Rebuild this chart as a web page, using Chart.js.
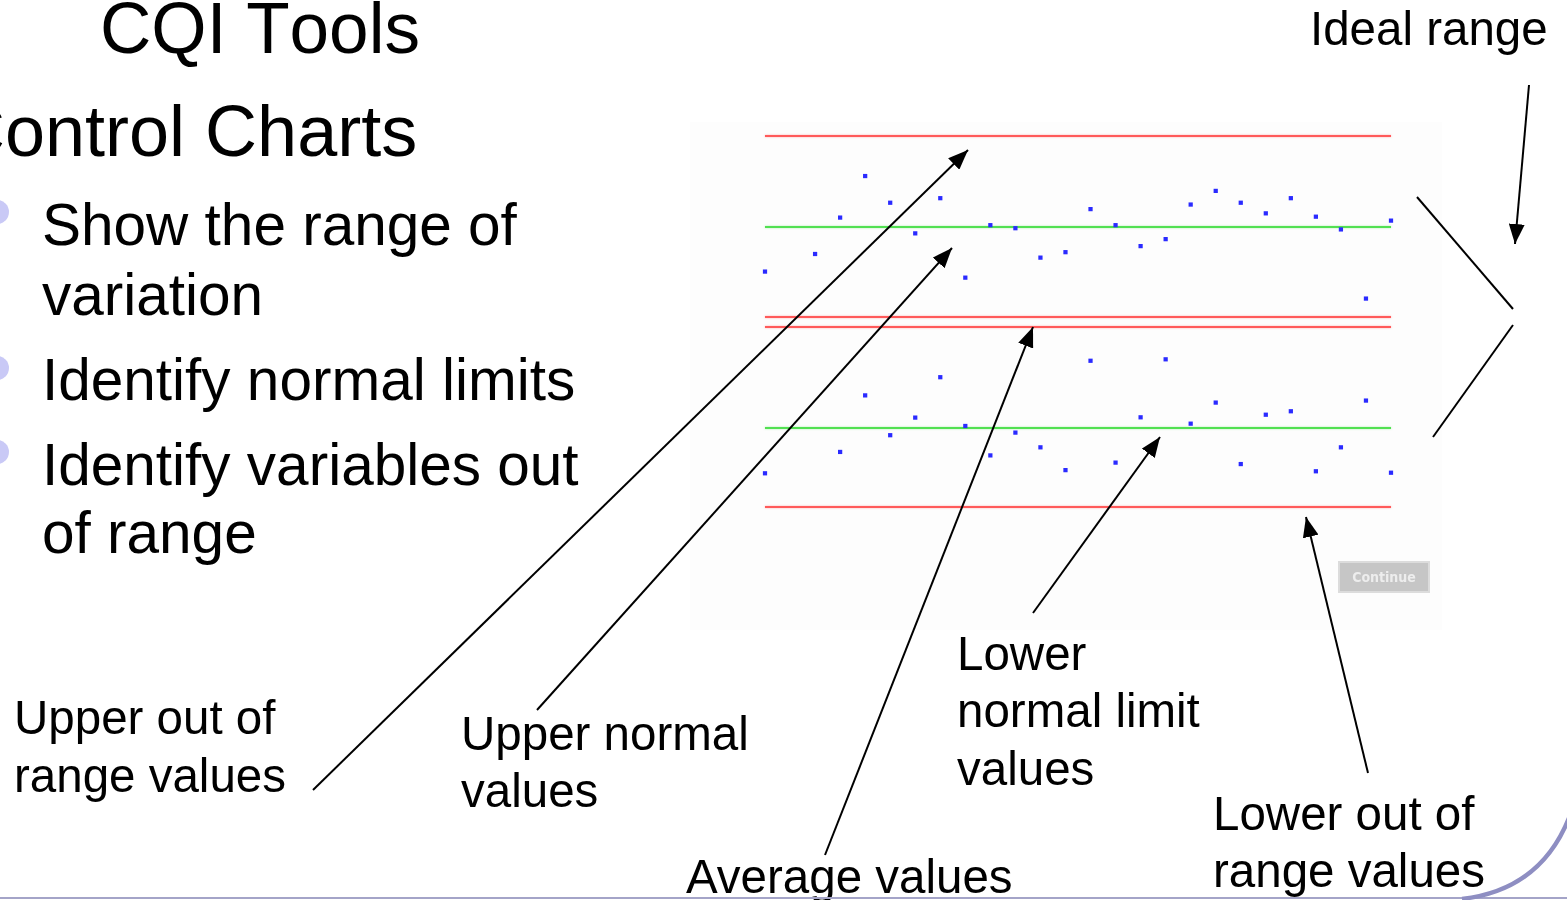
<!DOCTYPE html>
<html>
<head>
<meta charset="utf-8">
<title>CQI Tools – Control Charts</title>
<script src="https://cdn.jsdelivr.net/npm/chart.js@4/dist/chart.umd.min.js"></script>
<style>
  html, body { margin: 0; padding: 0; background: #ffffff; }
  #slide { position: relative; width: 1567px; height: 900px; overflow: hidden; background: #ffffff; }
  #shot { position: absolute; left: 690px; top: 122px; width: 752px; height: 508px; background: #fdfdfd; }
  #chart { position: absolute; left: 0; top: 0; }
  #notes { position: absolute; left: 0; top: 0; pointer-events: none; }
  #continue {
    position: absolute; left: 1338px; top: 561px; width: 92px; height: 32px;
    box-sizing: border-box; border: 2px solid #dcdcdc; background: #c6c6c6;
    color: #ededed; font: bold 14px "DejaVu Sans Condensed", "DejaVu Sans", sans-serif; text-align: center; line-height: 28px;
    filter: blur(0.4px);
  }
  svg text { font-family: "Liberation Sans", Arial, sans-serif; fill: #000; }
  .title { font-kerning: none; }
</style>
</head>
<body>
<div id="slide">
  <div id="shot"></div>
  <canvas id="chart" width="1567" height="900"></canvas>
  <div id="continue">Continue</div>
  <svg id="notes" width="1567" height="900" viewBox="0 0 1567 900">
    <defs>
      <marker id="head" viewBox="0 0 20 16" refX="20" refY="8" markerUnits="userSpaceOnUse"
              markerWidth="20" markerHeight="16" orient="auto">
        <path d="M0,0 L20,8 L0,16 z" fill="#000"/>
      </marker>
    </defs>

    <!-- slide titles -->
    <text class="title" x="100" y="53" font-size="72" textLength="320" lengthAdjust="spacingAndGlyphs">CQI Tools</text>
    <text class="title" x="-47" y="156" font-size="72">Control Charts</text>

    <!-- bullets -->
    <circle cx="-3" cy="212" r="12" fill="#c9c9f6"/>
    <circle cx="-3" cy="368" r="12" fill="#c9c9f6"/>
    <circle cx="-3" cy="452" r="12" fill="#c9c9f6"/>
    <text x="42" y="245" font-size="58.5">Show the range of</text>
    <text x="42" y="315" font-size="58.5">variation</text>
    <text x="42" y="400" font-size="58.5">Identify normal limits</text>
    <text x="42" y="485" font-size="58.5">Identify variables out</text>
    <text x="42" y="553" font-size="58.5">of range</text>

    <!-- callout labels -->
    <g font-size="47.5">
      <text x="1310" y="45">Ideal range</text>
      <text x="14" y="734">Upper out of</text>
      <text x="14" y="792">range values</text>
      <text x="461" y="750">Upper normal</text>
      <text x="461" y="807">values</text>
      <text x="686" y="893">Average values</text>
      <text x="957" y="670">Lower</text>
      <text x="957" y="727">normal limit</text>
      <text x="957" y="785">values</text>
      <text x="1213" y="830">Lower out of</text>
      <text x="1213" y="887">range values</text>
    </g>

    <!-- callout arrows -->
    <g stroke="#000" stroke-width="2" fill="none">
      <line x1="313" y1="790" x2="968" y2="150" marker-end="url(#head)"/>
      <line x1="537" y1="710" x2="952" y2="248" marker-end="url(#head)"/>
      <line x1="825" y1="855" x2="1033" y2="327" marker-end="url(#head)"/>
      <line x1="1033" y1="613" x2="1160" y2="437" marker-end="url(#head)"/>
      <line x1="1368" y1="773" x2="1306" y2="517" marker-end="url(#head)"/>
      <line x1="1529" y1="85" x2="1515" y2="244" marker-end="url(#head)"/>
      <line x1="1417" y1="197" x2="1513" y2="309"/>
      <line x1="1513" y1="325" x2="1433" y2="437"/>
    </g>

    <!-- slide frame -->
    <line x1="0" y1="898" x2="1567" y2="898" stroke="#a4a4c8" stroke-width="2"/>
    <path d="M1462,899 Q1540,890 1569,818" stroke="#8e8ec2" stroke-width="4.5" fill="none"/>
  </svg>
</div>

<script>
// sample numbers along the horizontal axis
const samples = ['1','2','3','4','5','6','7','8','9','10','11','12','13',
                 '14','15','16','17','18','19','20','21','22','23','24','25','26'];

// upper chart: sample values and control limits
const upperValues = [35.3, null, 41.1, 53.1, 66.8, 58.0, 47.9, 59.5, 33.3, 50.6, 49.6, 39.9, 41.7,
                     55.9, 50.6, 43.7, 46.0, 57.4, 61.9, 58.0, 54.5, 59.5, 53.4, 49.2, 26.4, 52.1];
const upperLimits = [80, 50, 20.3];   // UCL, centre line, LCL

// lower chart: sample values and control limits
const lowerValues = [34.3, null, null, 41.7, 61.3, 47.5, 53.6, 67.6, 50.7, 40.5, 48.4, 43.3, 35.4,
                     73.3, 38.0, 53.7, 73.8, 51.5, 58.8, 37.5, 54.6, 55.8, 35.0, 43.3, 59.5, 34.5];
const lowerLimits = [85, 50, 22.6];   // UCL, centre line, LCL

const LIMIT_RED = '#ff5a5a';
const CENTER_GREEN = '#52e052';
const POINT_BLUE = '#2a2aff';

// draws the control limit lines of each panel across the plot area
const controlLines = {
  id: 'controlLines',
  beforeDatasetsDraw(chart) {
    const { ctx, chartArea } = chart;
    const sets = [
      { axis: 'yU', limits: upperLimits },
      { axis: 'yL', limits: lowerLimits }
    ];
    ctx.save();
    ctx.lineWidth = 2;
    sets.forEach(s => {
      const scale = chart.scales[s.axis];
      s.limits.forEach((v, i) => {
        const y = Math.round(scale.getPixelForValue(v));
        ctx.strokeStyle = i === 1 ? CENTER_GREEN : LIMIT_RED;
        ctx.shadowColor = i === 1 ? 'rgba(82,224,82,0.5)' : 'rgba(255,90,90,0.5)';
        ctx.shadowBlur = 2;
        ctx.beginPath();
        ctx.moveTo(chartArea.left, y);
        ctx.lineTo(chartArea.right, y);
        ctx.stroke();
      });
    });
    ctx.restore();
  }
};

new Chart(document.getElementById('chart'), {
  type: 'line',
  data: {
    labels: samples,
    datasets: [
      {
        label: 'Upper chart',
        data: upperValues,
        yAxisID: 'yU',
        showLine: false,
        pointStyle: 'rect',
        pointRadius: 3,
        pointBorderWidth: 0,
        backgroundColor: POINT_BLUE,
        borderColor: POINT_BLUE,
        clip: false
      },
      {
        label: 'Lower chart',
        data: lowerValues,
        yAxisID: 'yL',
        showLine: false,
        pointStyle: 'rect',
        pointRadius: 3,
        pointBorderWidth: 0,
        backgroundColor: POINT_BLUE,
        borderColor: POINT_BLUE,
        clip: false
      }
    ]
  },
  options: {
    responsive: false,
    animation: false,
    devicePixelRatio: 1,
    layout: { padding: { left: 765, right: 176, top: 136, bottom: 393 } },
    plugins: { legend: { display: false }, tooltip: { enabled: false } },
    scales: {
      x: { type: 'category', display: false, offset: false },
      yU: { display: false, min: -42.31, max: 80 },
      yL: { display: false, min: 22.62, max: 151.19 }
    }
  },
  plugins: [controlLines]
});
</script>
</body>
</html>
